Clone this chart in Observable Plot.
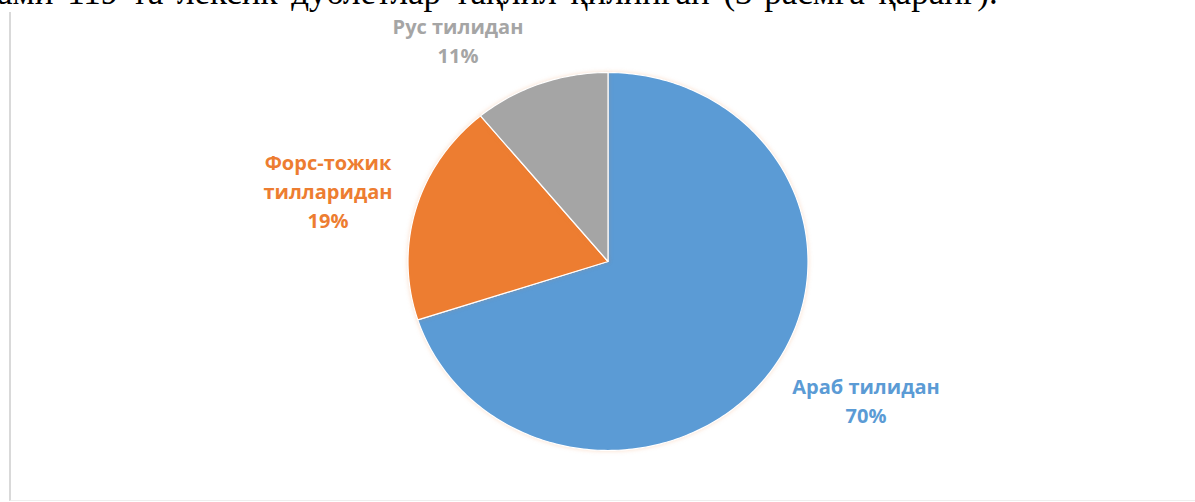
<!DOCTYPE html>
<html>
<head>
<meta charset="utf-8">
<script src="https://cdn.jsdelivr.net/npm/d3@7"></script>
<script src="https://cdn.jsdelivr.net/npm/@observablehq/plot@0.6"></script>
<style>
  html, body { margin: 0; padding: 0; background: #fff; width: 1195px; height: 502px; overflow: hidden; }
  #wrap { position: relative; width: 1195px; height: 502px; }
  #doctext { position: absolute; left: -3px; top: -25px; white-space: nowrap;
             font-family: "Liberation Serif", "DejaVu Serif", serif; font-size: 35px; line-height: 35px;
             word-spacing: 5px; color: #000; }
  #frame { position: absolute; left: 9px; top: 12px; width: 1200px; height: 488px;
           border-left: 2px solid #d9d9d9; border-bottom: 1px solid #eeeeee; }
  #chart { position: absolute; left: 0; top: 0; }
</style>
</head>
<body>
<div id="wrap">
  <div id="frame"></div>
  <div id="chart"></div>
  <div id="doctext">ами 119 та лексик дублетлар тақлил қилинган (3-расмга қаранг).</div>
</div>
<script>
// ---- data ----
const categories = ["Араб тилидан", "Форс-тожик тилларидан", "Рус тилидан"];
const labelLines = [["Араб тилидан"], ["Форс-тожик", "тилларидан"], ["Рус тилидан"]];
const shares = [70, 19, 11];
const colors = ["#5b9bd5", "#ed7d31", "#a5a5a5"];
const labelColors = ["#5b9bd5", "#ed7d31", "#a5a5a5"];

// ---- layout (label anchors, in normalized pie units) ----
const labelAnchor = [[1.29, -0.728], [-1.40, 0.381], [-0.75, 1.177]];

// pie angles (clockwise from 12 o'clock)
const arcs = d3.pie().sort(null).value(d => d)(shares);

const polys = [];
arcs.forEach((a, i) => {
  polys.push({name: categories[i], x: 0, y: 0});
  const steps = Math.max(2, Math.ceil((a.endAngle - a.startAngle) / (Math.PI / 180)));
  for (let k = 0; k <= steps; k++) {
    const t = a.startAngle + (a.endAngle - a.startAngle) * k / steps;
    polys.push({name: categories[i], x: Math.sin(t), y: Math.cos(t)});
  }
});

const labels = [];
arcs.forEach((a, i) => {
  const lines = labelLines[i].concat([Math.round(a.value) + "%"]);
  labels.push({name: categories[i], x: labelAnchor[i][0], y: labelAnchor[i][1],
               text: lines.join("\n"), color: labelColors[i]});
});

const chart = Plot.plot({
  width: 1195,
  height: 502,
  margin: 0,
  x: {domain: [-1, 1], range: [407.5, 807.5], axis: null},
  y: {domain: [-1, 1], range: [450, 72], axis: null},
  color: {domain: categories, range: colors},
  style: {background: "transparent"},
  marks: [
    Plot.line(polys, {x: "x", y: "y", z: "name", fill: "name", stroke: "#ffffff",
                      strokeWidth: 1.2, curve: "linear-closed"}),
    Plot.text(labels, {x: "x", y: "y", text: "text", fill: "color",
                       fontFamily: "'Open Sans', Lato, sans-serif", fontWeight: "bold",
                       fontSize: 20, lineHeight: 1.47, textAnchor: "middle"})
  ]
});
chart.querySelectorAll('g[aria-label="line"] path').forEach(p => {
  p.style.filter = "drop-shadow(0 0 2px rgba(237,125,49,0.25))";
});
document.getElementById("chart").appendChild(chart);
</script>
</body>
</html>
